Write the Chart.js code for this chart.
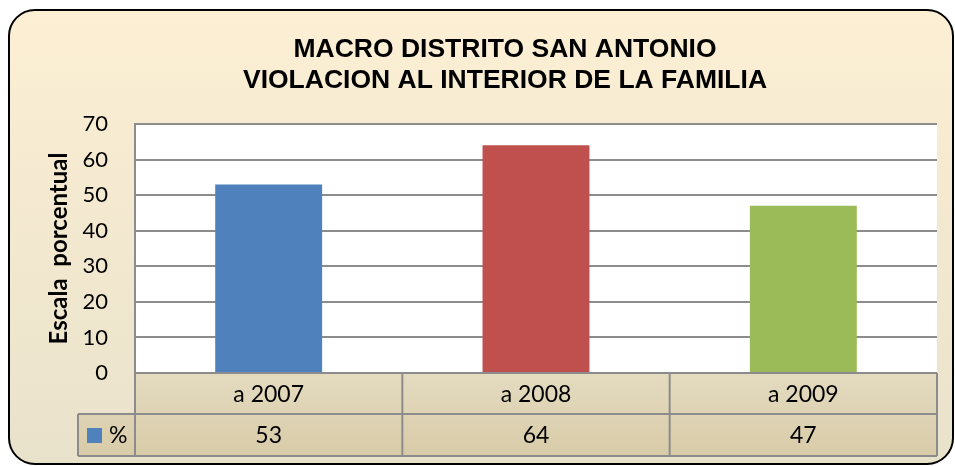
<!DOCTYPE html>
<html>
<head>
<meta charset="utf-8">
<script src="https://cdn.jsdelivr.net/npm/chart.js@4"></script>
<style>
  html, body { margin: 0; padding: 0; background: #ffffff; }
  #wrap { width: 955px; height: 466px; }
</style>
</head>
<body>
<div id="wrap"><canvas id="chart" width="955" height="466"></canvas></div>
<script>
const categories = ["a 2007", "a 2008", "a 2009"];
const values = [53, 64, 47];
const barColors = ["#4F81BD", "#C0504D", "#9BBB59"];
const seriesLabel = "%";
const titleLines = ["MACRO DISTRITO SAN ANTONIO", "VIOLACION AL INTERIOR DE LA FAMILIA"];
const yTitle = "Escala  porcentual";
const yMax = 70;
const yStep = 10;

const tableFont = "23px Lato, 'Open Sans', sans-serif";
const titleFont = "bold 26.5px 'Liberation Sans', Arial, sans-serif";
const lineGray = "#8c8c8c";

function roundRect(ctx, x, y, w, h, r) {
    ctx.beginPath();
    ctx.moveTo(x + r, y);
    ctx.lineTo(x + w - r, y);
    ctx.arcTo(x + w, y, x + w, y + r, r);
    ctx.lineTo(x + w, y + h - r);
    ctx.arcTo(x + w, y + h, x + w - r, y + h, r);
    ctx.lineTo(x + r, y + h);
    ctx.arcTo(x, y + h, x, y + h - r, r);
    ctx.lineTo(x, y + r);
    ctx.arcTo(x, y, x + r, y, r);
    ctx.closePath();
}

// frame, title and white plot background
const framePlugin = {
    id: "frame",
    beforeDraw(chart) {
        const ctx = chart.ctx;
        const area = chart.chartArea;
        ctx.save();
        const grad = ctx.createLinearGradient(0, 10, 0, 464);
        grad.addColorStop(0, "#fcefd4");
        grad.addColorStop(1, "#e9e2cb");
        roundRect(ctx, 9, 10, 944, 454, 26);
        ctx.fillStyle = grad;
        ctx.fill();
        ctx.lineWidth = 2;
        ctx.strokeStyle = "#000000";
        ctx.stroke();

        ctx.fillStyle = "#ffffff";
        ctx.fillRect(area.left, area.top, area.right - area.left, area.bottom - area.top);

        ctx.fillStyle = "#000000";
        ctx.font = titleFont;
        ctx.textAlign = "center";
        ctx.textBaseline = "middle";
        ctx.fillText(titleLines[0], 505, 50);
        ctx.fillText(titleLines[1], 505, 81);
        ctx.restore();
    }
};

// data table under the plot
const tablePlugin = {
    id: "dataTable",
    afterDraw(chart) {
        const ctx = chart.ctx;
        const xScale = chart.scales.x;
        const area = chart.chartArea;
        const catW = (area.right - area.left) / categories.length;
        const row1Top = area.bottom;
        const row1Bot = row1Top + 41;
        const row2Bot = row1Bot + 42;
        const legendLeft = 78;

        ctx.save();
        const cellGrad = ctx.createLinearGradient(0, row1Top, 0, row2Bot);
        cellGrad.addColorStop(0, "#e4dbc0");
        cellGrad.addColorStop(1, "#d8cba8");
        ctx.fillStyle = cellGrad;
        ctx.fillRect(area.left, row1Top, area.right - area.left, row1Bot - row1Top);
        ctx.fillRect(legendLeft, row1Bot, area.right - legendLeft, row2Bot - row1Bot);

        ctx.strokeStyle = lineGray;
        ctx.lineWidth = 2;
        ctx.beginPath();
        ctx.moveTo(area.left, row1Top); ctx.lineTo(area.right, row1Top);
        ctx.moveTo(legendLeft, row1Bot); ctx.lineTo(area.right, row1Bot);
        ctx.moveTo(legendLeft, row2Bot); ctx.lineTo(area.right, row2Bot);
        ctx.moveTo(legendLeft, row1Bot); ctx.lineTo(legendLeft, row2Bot);
        for (let i = 0; i <= categories.length; i++) {
            const x = xScale.getPixelForValue(i) - catW / 2;
            ctx.moveTo(x, row1Top); ctx.lineTo(x, row2Bot);
        }
        ctx.stroke();

        ctx.fillStyle = "#000000";
        ctx.font = tableFont;
        ctx.textAlign = "center";
        ctx.textBaseline = "middle";
        categories.forEach(function (cat, i) {
            const cx = xScale.getPixelForValue(i);
            ctx.fillText(cat, cx, (row1Top + row1Bot) / 2 + 1);
            ctx.fillText(String(values[i]), cx, (row1Bot + row2Bot) / 2 + 1);
        });

        // legend key
        ctx.fillStyle = barColors[0];
        ctx.fillRect(legendLeft + 9, row1Bot + 14, 15, 15);
        ctx.fillStyle = "#000000";
        ctx.textAlign = "left";
        ctx.fillText(seriesLabel, legendLeft + 31, (row1Bot + row2Bot) / 2 + 1);
        ctx.restore();
    }
};

const ctx = document.getElementById("chart").getContext("2d");
new Chart(ctx, {
    type: "bar",
    data: {
        labels: categories,
        datasets: [{
            label: seriesLabel,
            data: values,
            backgroundColor: barColors,
            borderWidth: 0,
            categoryPercentage: 1,
            barPercentage: 0.4
        }]
    },
    options: {
        responsive: false,
        animation: false,
        layout: { padding: { left: 0, right: 18, top: 124, bottom: 93 } },
        plugins: {
            legend: { display: false },
            tooltip: { enabled: false },
            title: { display: false }
        },
        scales: {
            x: {
                display: false,
                offset: true
            },
            y: {
                min: 0,
                max: yMax,
                ticks: {
                    stepSize: yStep,
                    color: "#000000",
                    font: { family: "Lato, 'Open Sans', sans-serif", size: 22 },
                    padding: 27
                },
                grid: { color: lineGray, lineWidth: 2, drawTicks: false },
                border: { color: lineGray, width: 2 },
                title: {
                    display: true,
                    text: yTitle,
                    color: "#000000",
                    font: { family: "Lato, 'Open Sans', sans-serif", size: 24, weight: "bold" },
                    padding: { top: 45, bottom: 0 }
                },
                afterFit(scale) { scale.width = 135; }
            }
        }
    },
    plugins: [framePlugin, tablePlugin]
});
</script>
</body>
</html>
